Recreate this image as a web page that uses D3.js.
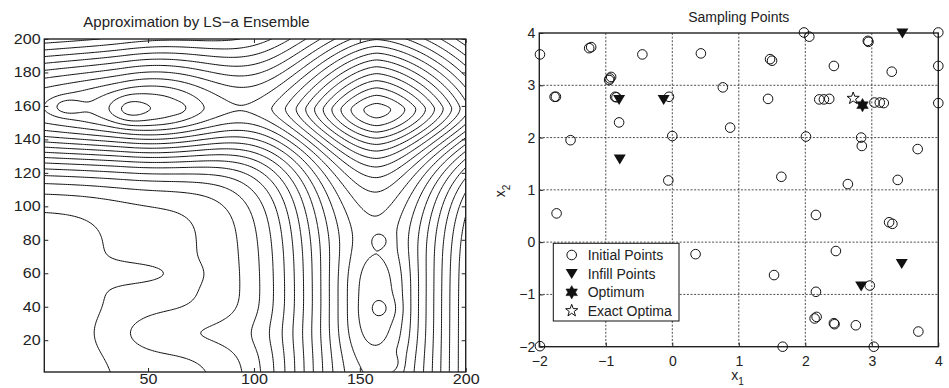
<!DOCTYPE html>
<html><head><meta charset="utf-8">
<script src="https://cdn.jsdelivr.net/npm/d3@7"></script>
<style>
body{margin:0;background:#fff;}
svg{display:block;font-family:"Liberation Sans",Arial,Helvetica,sans-serif;}
</style></head><body>
<svg id="fig" width="949" height="388"></svg>
<script>
// ---------- Left panel: ensemble surrogate sampled on a 200 x 200 grid ----------
const gridSize = [200, 200];
const surfaceBase = 0.4;
// Surface terms: centre (u, v), height, half-widths (left, right, down, up), shape exponents (u, v)
const termU   = [38,   11.7, 48,  40.7, 64,  62,  45,   62,  157,  158, 161, 160,  165, 158];
const termV   = [159,  159.6,158, 157.6,158.7,55, 60,   24,  60,   42,  39,  79.5, 6,   159];
const termAmp = [13.5, 1.3,  0.9, 1.0,  0.5, 1.1, -0.9, 1.1, 12.6, 1.6, 0.7, 0.6,  0.8, 22.3];
const termWL  = [120,  5,    18,  6,    2.5, 30,  15,   20,  33,   13,  5,   3.5,  3,   42];
const termWR  = [42,   5,    18,  6,    2.5, 30,  15,   30,  31,   13,  5,   3.5,  3,   50];
const termWD  = [25,   3.5,  9,   6,    2,   80,  5,    9,   1000, 25.5,5,   3.5,  3.5, 22];
const termWU  = [32,   3.5,  9,   6,    2,   40,  5,    9,   70,   25.5,5,   3.5,  3.5, 45];
const termPU  = [2.4,  2,    2,   2,    2,   3,   2,    2,   2,    2,   2,   2,    2,   1.6];
const termPV  = [2,    2,    2,   2,    2,   3,   2,    2,   4,    3,   2,   2,    2,   1.6];
const contourLevels = d3.range(1, 26);
const leftXTicks = [50, 100, 150, 200];
const leftYTicks = [20, 40, 60, 80, 100, 120, 140, 160, 180, 200];
const leftTitle = "Approximation by LS\u2212a Ensemble";

// ---------- Right panel: sampling plan ----------
const initialX1 = [-1.99,-1.25,-1.22,-0.45,0.43,-0.94,-0.92,-0.95,-1.77,-1.75,-0.86,-0.84,-0.05,0.76,-0.80,-1.53,0.00,0.87,-0.06,
  1.98,2.06,2.94,2.95,4.00,1.47,1.50,2.43,3.30,4.00,1.44,2.21,2.28,2.36,3.04,3.12,3.18,4.00,2.01,2.84,2.85,3.69,1.64,2.64,3.39,
  -1.74,0.35,-1.99,2.16,3.26,3.31,2.46,1.53,2.97,2.16,2.14,2.17,2.43,2.44,2.76,3.70,1.66,3.03];
const initialX2 = [3.59,3.71,3.73,3.59,3.61,3.13,3.16,3.10,2.78,2.78,2.78,2.77,2.78,2.96,2.29,1.95,2.03,2.19,1.18,
  4.01,3.93,3.85,3.83,4.01,3.50,3.47,3.37,3.26,3.37,2.74,2.73,2.73,2.74,2.67,2.67,2.66,2.66,2.02,2.00,1.84,1.78,1.25,1.11,1.19,
  0.55,-0.23,-1.99,0.52,0.38,0.35,-0.17,-0.63,-0.83,-0.95,-1.46,-1.43,-1.55,-1.57,-1.59,-1.71,-2.00,-2.00];
const infillX1 = [-0.80, -0.13, -0.79, 3.46, 3.45, 2.84];
const infillX2 = [2.72, 2.72, 1.58, 3.99, -0.42, -0.85];
const optimumPoint = [2.86, 2.62];
const exactOptimum = [2.72, 2.75];
const rightTicks = [-2, -1, 0, 1, 2, 3, 4];
const rightTitle = "Sampling Points";
const legendLabels = ["Initial Points", "Infill Points", "Optimum", "Exact Optima"];

const svg = d3.select("#fig");
const fmt = d => (d < 0 ? "\u2212" + Math.abs(d) : String(d));

// ===== Left panel =====
const L = {x0: 44.3, x1: 465.7, y0: 39, y1: 372};
const xL = d3.scaleLinear().domain([1, 200]).range([L.x0, L.x1]);
const yL = d3.scaleLinear().domain([1, 200]).range([L.y1, L.y0]);

function kernel(k, u, v) {
  const du = u - termU[k], dv = v - termV[k];
  const su = du < 0 ? termWL[k] : termWR[k];
  const sv = dv < 0 ? termWD[k] : termWU[k];
  return Math.exp(-0.5 * Math.pow(Math.abs(du) / su, termPU[k]) - 0.5 * Math.pow(Math.abs(dv) / sv, termPV[k]));
}
const [nx, ny] = gridSize;
const values = new Float64Array(nx * ny);
for (let j = 0; j < ny; j++) {
  for (let i = 0; i < nx; i++) {
    const u = i + 1, v = j + 1;
    let s = surfaceBase;
    for (let k = 0; k < termU.length; k++) s += termAmp[k] * kernel(k, u, v);
    values[j * nx + i] = s;
  }
}
const contours = d3.contours().size(gridSize).thresholds(contourLevels)(values);
const toScreen = d3.geoTransform({
  point(x, y) { this.stream.point(xL(x + 0.5), yL(y + 0.5)); }
});
const pathL = d3.geoPath(toScreen);

svg.append("clipPath").attr("id", "clipL").append("rect")
  .attr("x", L.x0).attr("y", L.y0).attr("width", L.x1 - L.x0).attr("height", L.y1 - L.y0);

svg.append("g").attr("clip-path", "url(#clipL)")
  .selectAll("path").data(contours).join("path")
  .attr("d", pathL).attr("fill", "none").attr("stroke", "#111").attr("stroke-width", 1);

// frame and ticks
svg.append("rect").attr("x", L.x0).attr("y", L.y0).attr("width", L.x1 - L.x0).attr("height", L.y1 - L.y0)
  .attr("fill", "none").attr("stroke", "#222").attr("stroke-width", 1.4);

const axBL = svg.append("g").attr("transform", `translate(0,${L.y1})`)
  .call(d3.axisBottom(xL).tickValues(leftXTicks).tickSize(-4).tickPadding(2).tickFormat(fmt));
const axTL = svg.append("g").attr("transform", `translate(0,${L.y0})`)
  .call(d3.axisTop(xL).tickValues(leftXTicks).tickSize(-4).tickFormat(""));
const axLL = svg.append("g").attr("transform", `translate(${L.x0},0)`)
  .call(d3.axisLeft(yL).tickValues(leftYTicks).tickSize(-4).tickPadding(3).tickFormat(fmt));
const axRL = svg.append("g").attr("transform", `translate(${L.x1},0)`)
  .call(d3.axisRight(yL).tickValues(leftYTicks).tickSize(-4).tickFormat(""));
[axBL, axTL, axLL, axRL].forEach(a => {
  a.select(".domain").remove();
  a.selectAll(".tick line").attr("stroke", "#222");
});
axBL.selectAll("text").attr("font-size", 14).attr("fill", "#222").attr("font-family", null)
  .attr("transform", "scale(1.15,1)");
axLL.selectAll("text").attr("font-size", 14).attr("fill", "#222").attr("font-family", null)
  .attr("transform", "scale(1.15,1)").attr("x", -3.2);

svg.append("text").attr("x", 196.5).attr("y", 27).attr("text-anchor", "middle")
  .attr("font-size", 15).attr("fill", "#222").text(leftTitle);

// ===== Right panel =====
const R = {x0: 539.3, x1: 938.3, y0: 33, y1: 346.7};
const xR = d3.scaleLinear().domain([-2, 4]).range([R.x0, R.x1]);
const yR = d3.scaleLinear().domain([-2, 4]).range([R.y1, R.y0]);

const grid = svg.append("g").attr("stroke", "#222").attr("stroke-width", 0.8).attr("stroke-dasharray", "2,1.6");
grid.selectAll("line.gx").data(rightTicks.slice(1, -1)).join("line").attr("class", "gx")
  .attr("x1", d => xR(d)).attr("x2", d => xR(d)).attr("y1", R.y0).attr("y2", R.y1);
grid.selectAll("line.gy").data(rightTicks.slice(1, -1)).join("line").attr("class", "gy")
  .attr("y1", d => yR(d)).attr("y2", d => yR(d)).attr("x1", R.x0).attr("x2", R.x1);

svg.append("rect").attr("x", R.x0).attr("y", R.y0).attr("width", R.x1 - R.x0).attr("height", R.y1 - R.y0)
  .attr("fill", "none").attr("stroke", "#222").attr("stroke-width", 1.4);

const axBR = svg.append("g").attr("transform", `translate(0,${R.y1})`)
  .call(d3.axisBottom(xR).tickValues(rightTicks).tickSize(-4).tickPadding(9).tickFormat(fmt));
const axLR = svg.append("g").attr("transform", `translate(${R.x0},0)`)
  .call(d3.axisLeft(yR).tickValues(rightTicks).tickSize(-4).tickPadding(4).tickFormat(fmt));
[axBR, axLR].forEach(a => {
  a.select(".domain").remove();
  a.selectAll(".tick line").attr("stroke", "#222");
  a.selectAll("text").attr("font-size", 14).attr("fill", "#222").attr("font-family", null);
});

svg.append("text").attr("x", 738.8).attr("y", 22).attr("text-anchor", "middle")
  .attr("font-size", 14).attr("fill", "#222").text(rightTitle);

const xlab = svg.append("text").attr("x", 737.5).attr("y", 380).attr("text-anchor", "middle")
  .attr("font-size", 14).attr("fill", "#222");
xlab.append("tspan").text("x");
xlab.append("tspan").attr("font-size", 10).attr("dy", 5).text("1");
const ylab = svg.append("text").attr("transform", "translate(505,191) rotate(-90)").attr("text-anchor", "middle")
  .attr("font-size", 14).attr("fill", "#222");
ylab.append("tspan").text("x");
ylab.append("tspan").attr("font-size", 10).attr("dy", 5).text("2");

// marker shapes
function starPath(points, rOut, rIn) {
  const pts = [];
  for (let i = 0; i < points * 2; i++) {
    const a = -Math.PI / 2 + i * Math.PI / points;
    const r = i % 2 === 0 ? rOut : rIn;
    pts.push([r * Math.cos(a), r * Math.sin(a)]);
  }
  return "M" + pts.map(p => p[0].toFixed(2) + "," + p[1].toFixed(2)).join("L") + "Z";
}
const triPath = "M-6,-5L6,-5L0,5Z";
const hexPath = starPath(6, 6.6, 3.8);
const pentPath = starPath(5, 6.4, 2.6);

const pts = svg.append("g");
pts.selectAll("circle").data(d3.range(initialX1.length)).join("circle")
  .attr("cx", i => xR(initialX1[i])).attr("cy", i => yR(initialX2[i])).attr("r", 4.8)
  .attr("fill", "none").attr("stroke", "#111").attr("stroke-width", 1);
pts.selectAll("path.inf").data(d3.range(infillX1.length)).join("path").attr("class", "inf")
  .attr("d", triPath).attr("transform", i => `translate(${xR(infillX1[i])},${yR(infillX2[i])})`)
  .attr("fill", "#111");
pts.append("path").attr("d", pentPath)
  .attr("transform", `translate(${xR(exactOptimum[0])},${yR(exactOptimum[1])})`)
  .attr("fill", "none").attr("stroke", "#111").attr("stroke-width", 1);
pts.append("path").attr("d", hexPath)
  .attr("transform", `translate(${xR(optimumPoint[0])},${yR(optimumPoint[1])})`)
  .attr("fill", "#111").attr("stroke", "#111").attr("stroke-width", 0.6);

// legend
const lg = svg.append("g");
lg.append("rect").attr("x", 553.3).attr("y", 243.3).attr("width", 125.7).attr("height", 77.7)
  .attr("fill", "#fff").attr("stroke", "#111").attr("stroke-width", 1);
const rowY = [255, 274, 292.3, 310.7];
lg.append("circle").attr("cx", 571.7).attr("cy", rowY[0]).attr("r", 4.8)
  .attr("fill", "none").attr("stroke", "#111").attr("stroke-width", 1);
lg.append("path").attr("d", triPath).attr("transform", `translate(571.7,${rowY[1]})`).attr("fill", "#111");
lg.append("path").attr("d", hexPath).attr("transform", `translate(571.7,${rowY[2]})`)
  .attr("fill", "#111").attr("stroke", "#111").attr("stroke-width", 0.6);
lg.append("path").attr("d", pentPath).attr("transform", `translate(571.7,${rowY[3]})`)
  .attr("fill", "none").attr("stroke", "#111").attr("stroke-width", 1);
lg.selectAll("text").data(legendLabels).join("text")
  .attr("x", 587.7).attr("y", (d, i) => rowY[i] + 5).attr("font-size", 14).attr("fill", "#222").text(d => d);
</script>
</body></html>
